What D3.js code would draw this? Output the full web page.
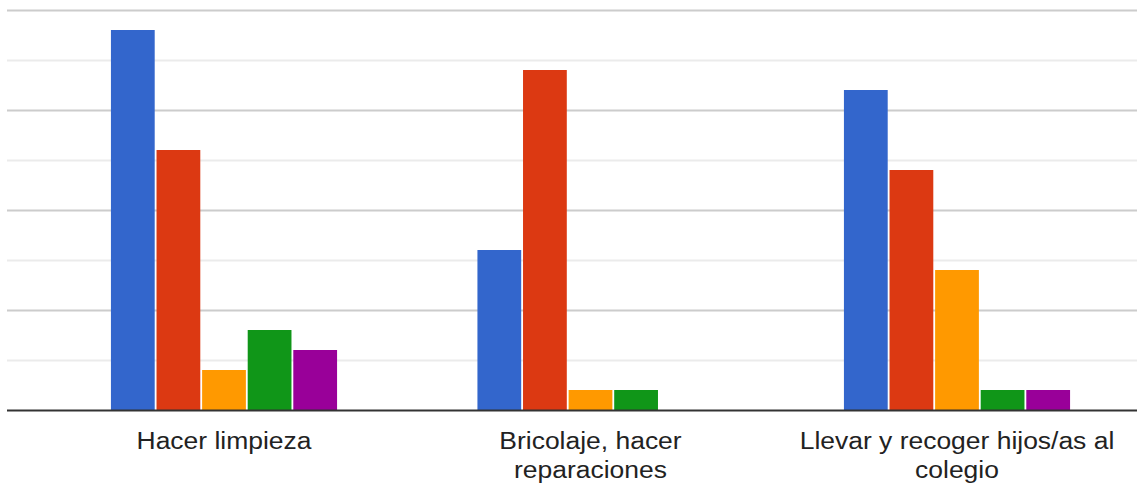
<!DOCTYPE html>
<html>
<head>
<meta charset="utf-8">
<script src="https://cdn.jsdelivr.net/npm/d3@7/dist/d3.min.js"></script>
<style>
  body { margin: 0; background: #fff; }
  svg { display: block; }
  .lbl { font-family: "Liberation Sans", Arial, sans-serif; font-size: 24.5px; fill: #222; }
</style>
</head>
<body>
<div id="chart"></div>
<script>
// categories (two-line labels)
var categories = ['Hacer limpieza', 'Bricolaje, hacer reparaciones', 'Llevar y recoger hijos/as al colegio'];
var category_lines = [['Hacer limpieza'], ['Bricolaje, hacer', 'reparaciones'], ['Llevar y recoger hijos/as al', 'colegio']];

var series = ['Serie 1', 'Serie 2', 'Serie 3', 'Serie 4', 'Serie 5'];
var colors = ['#3366cc', '#dc3912', '#ff9900', '#109618', '#990099'];

// values per series, one per category
var serie_1 = [19, 8, 16];
var serie_2 = [13, 17, 12];
var serie_3 = [2, 1, 7];
var serie_4 = [4, 1, 1];
var serie_5 = [3, 0, 1];
var values = [serie_1, serie_2, serie_3, serie_4, serie_5];

var grid_ticks = [0, 2.5, 5, 7.5, 10, 12.5, 15, 17.5, 20];

var width = 1142, height = 495;
var svg = d3.select('#chart').append('svg')
    .attr('width', width)
    .attr('height', height);

var x = d3.scaleBand()
    .domain(categories)
    .range([40.75, 1140.25])
    .paddingInner(0.383)
    .paddingOuter(0.1915);

var x_inner = d3.scaleBand()
    .domain(series)
    .range([0, x.bandwidth()])
    .paddingInner(0.04);

var y = d3.scaleLinear()
    .domain([0, 20])
    .range([410, 10]);

var grid_left = 7, grid_right = 1137;

// gridlines
svg.append('g')
    .selectAll('line')
    .data(grid_ticks.filter(function(d) { return d > 0; }))
    .enter()
    .append('line')
    .attr('x1', grid_left)
    .attr('x2', grid_right)
    .attr('y1', function(d) { return Math.round(y(d)) + 0.5; })
    .attr('y2', function(d) { return Math.round(y(d)) + 0.5; })
    .attr('stroke', function(d) { return d % 5 == 0 ? '#cccccc' : '#ebebeb'; })
    .attr('stroke-width', 2);

// bars
var groups = svg.selectAll('.grp')
    .data(categories)
    .enter()
    .append('g')
    .attr('class', 'grp')
    .attr('transform', function(d) { return 'translate(' + x(d) + ',0)'; });

groups.selectAll('rect')
    .data(function(d, i) {
        return series.map(function(s, j) { return {serie: s, value: values[j][i], color: colors[j]}; });
    })
    .enter()
    .append('rect')
    .attr('x', function(d) { return x_inner(d.serie); })
    .attr('width', x_inner.bandwidth())
    .attr('y', function(d) { return y(d.value); })
    .attr('height', function(d) { return y(0) - y(d.value); })
    .attr('fill', function(d) { return d.color; });

// baseline
svg.append('line')
    .attr('x1', grid_left)
    .attr('x2', grid_right)
    .attr('y1', y(0) + 0.5)
    .attr('y2', y(0) + 0.5)
    .attr('stroke', '#333333')
    .attr('stroke-width', 2);

// category labels
var labels = svg.selectAll('.lblg')
    .data(categories)
    .enter()
    .append('g')
    .attr('class', 'lblg')
    .attr('transform', function(d) { return 'translate(' + (x(d) + x.bandwidth() / 2) + ',449) scale(1.08,1)'; });

labels.selectAll('text')
    .data(function(d, i) { return category_lines[i]; })
    .enter()
    .append('text')
    .attr('class', 'lbl')
    .attr('x', 0)
    .attr('y', function(d, i) { return i * 29; })
    .style('text-anchor', 'middle')
    .text(function(d) { return d; });
</script>
</body>
</html>
